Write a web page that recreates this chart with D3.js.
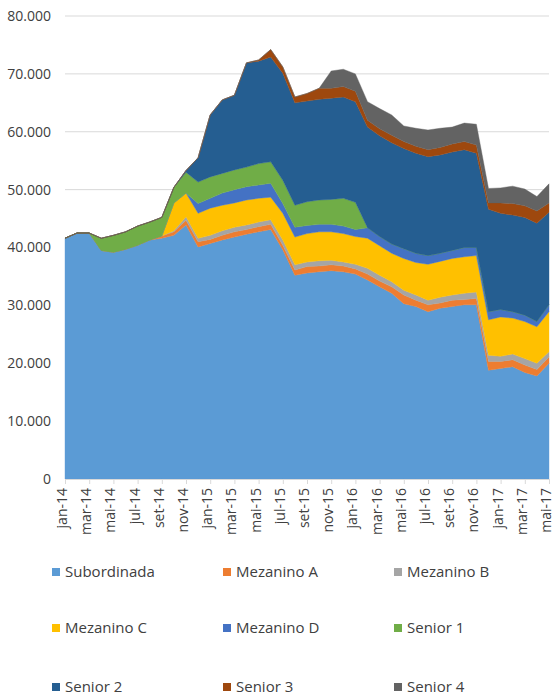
<!DOCTYPE html>
<html>
<head>
<meta charset="utf-8">
<script src="https://cdn.jsdelivr.net/npm/d3@7"></script>
<style>
  body { margin: 0; background: #fff; }
  svg text { font-family: "Open Sans", "Liberation Sans", sans-serif; }
</style>
</head>
<body>
<div id="chart"></div>
<script>
// months jan-14 .. mai-17 (values in thousands)
var months = ["jan-14","fev-14","mar-14","abr-14","mai-14","jun-14","jul-14","ago-14","set-14","out-14","nov-14","dez-14",
              "jan-15","fev-15","mar-15","abr-15","mai-15","jun-15","jul-15","ago-15","set-15","out-15","nov-15","dez-15",
              "jan-16","fev-16","mar-16","abr-16","mai-16","jun-16","jul-16","ago-16","set-16","out-16","nov-16","dez-16",
              "jan-17","fev-17","mar-17","abr-17","mai-17"];

var subordinada = [41.6,42.5,42.5,39.5,39.2,39.7,40.4,41.3,41.6,42.1,43.9,40.1,
                   40.7,41.3,41.8,42.3,42.7,43.1,39.6,35.2,35.6,35.8,36.0,35.8,
                   35.4,34.4,33.2,32.1,30.3,29.8,28.9,29.5,29.8,30.1,30.1,18.8,
                   19.1,19.4,18.4,17.8,20.0];
var mezaninoA = [0,0,0,0,0,0,0,0,0.4,0.6,0.8,0.9,
                 0.7,0.8,0.9,0.8,0.9,0.9,0.8,0.9,1.1,1.0,1.0,1.0,
                 0.9,1.0,1.0,1.1,1.5,1.1,1.2,0.9,1.1,0.9,1.1,1.5,
                 1.2,1.2,1.3,1.1,1.1];
var mezaninoB = [0,0,0,0,0,0,0,0,0,0.2,0.6,0.6,
                 0.7,0.8,0.8,0.8,0.8,0.8,0.9,0.9,0.8,0.9,0.8,0.7,
                 0.8,1.0,1.0,0.9,0.8,0.9,0.8,1.0,0.9,1.1,1.1,1.1,
                 0.9,1.0,1.1,1.1,0.9];
var mezaninoC = [0,0,0,0,0,0,0,0,0,4.8,4.1,4.3,
                 4.7,4.4,4.2,4.3,4.1,3.9,4.6,4.8,4.9,5.0,4.9,4.9,
                 4.8,5.2,5.1,4.9,5.5,5.6,6.2,6.2,6.3,6.3,6.3,6.1,
                 6.8,6.2,6.4,6.3,6.9];
var mezaninoD = [0,0,0,0,0,0,0,0,0,0,0,1.7,
                 1.7,2.1,2.3,2.3,2.3,2.4,1.7,1.7,1.4,1.3,1.3,1.3,
                 1.2,1.8,1.6,1.6,1.7,1.6,1.5,1.4,1.4,1.6,1.4,1.4,
                 1.3,1.1,1.1,0.9,1.2];
var senior1 = [0,0,0,2.1,2.9,3.0,3.3,3.1,3.2,2.7,3.6,3.7,
               3.7,3.4,3.4,3.4,3.7,3.7,4.0,3.8,4.1,4.2,4.3,4.8,
               4.7,0,0,0,0,0,0,0,0,0,0,0,
               0,0,0,0,0];
var senior2 = [0,0,0,0,0,0,0,0,0,0,0.3,4.2,
               10.7,12.7,12.9,18.0,17.7,18.1,18.5,17.7,17.4,17.4,17.5,17.5,
               17.4,17.4,17.4,17.5,17.3,17.3,17.1,17.0,17.0,16.9,16.3,17.7,
               16.6,16.7,16.9,17.0,16.0];
var senior3 = [0,0,0,0,0,0,0,0,0,0,0,0,
               0,0,0,0,0.2,1.3,1.1,1.0,1.3,1.9,1.7,1.8,
               1.8,1.2,1.2,1.3,1.2,1.2,1.2,1.3,1.4,1.4,1.4,1.1,
               1.8,2.0,2.0,2.1,1.6];
var senior4 = [0,0,0,0,0,0,0,0,0,0,0,0,
               0,0,0,0,0,0,0,0,0,0,3.0,3.0,
               3.0,3.2,3.5,3.5,2.7,3.1,3.4,3.3,2.9,3.2,3.6,2.5,
               2.6,3.0,2.9,2.5,3.3];

var seriesNames = ["Subordinada","Mezanino A","Mezanino B","Mezanino C","Mezanino D","Senior 1","Senior 2","Senior 3","Senior 4"];
var seriesValues = [subordinada, mezaninoA, mezaninoB, mezaninoC, mezaninoD, senior1, senior2, senior3, senior4];
var colors = ["#5B9BD5","#ED7D31","#A5A5A5","#FFC000","#4472C4","#70AD47","#255E91","#9E480E","#636363"];
var yTicks = [0,10,20,30,40,50,60,70,80];

var width = 555, height = 700;
var svg = d3.select("#chart").append("svg")
	.attr("width", width)
	.attr("height", height);

// build rows for the stack
var rows = months.map(function (m, i) {
	var r = { month: m };
	seriesNames.forEach(function (s, k) { r[s] = seriesValues[k][i]; });
	return r;
});

var x = d3.scalePoint().domain(months).range([65, 549]);
var y = d3.scaleLinear().domain([0, 80]).range([479, 16]);

var fmt = function (d) { return d === 0 ? "0" : d3.format(",")(d * 1000).replace(/,/g, "."); };

// gridlines
svg.append("g")
	.selectAll("line")
	.data(yTicks)
	.enter()
	.append("line")
	.attr("x1", 65).attr("x2", 549)
	.attr("y1", function (d) { return y(d); })
	.attr("y2", function (d) { return y(d); })
	.attr("stroke", "#D9D9D9")
	.attr("stroke-width", 1);

var stacked = d3.stack().keys(seriesNames)(rows);

var area = d3.area()
	.x(function (d) { return x(d.data.month); })
	.y0(function (d) { return y(d[0]); })
	.y1(function (d) { return y(d[1]); });

svg.append("g")
	.selectAll("path")
	.data(stacked)
	.enter()
	.append("path")
	.attr("d", area)
	.attr("fill", function (d, i) { return colors[i]; })
	.attr("stroke", function (d, i) { return colors[i]; })
	.attr("stroke-width", 0.4);

// y axis
var yAxis = svg.append("g")
	.attr("transform", "translate(54,0)")
	.call(d3.axisLeft(y).tickValues(yTicks).tickSize(0).tickFormat(fmt));
yAxis.select(".domain").remove();
yAxis.selectAll("text")
	.attr("font-size", "14px")
	.attr("fill", "#404040")
	.attr("font-family", "Open Sans, Liberation Sans, sans-serif");

// x axis
var labelMonths = months.filter(function (m, i) { return i % 2 === 0; });
var xAxis = svg.append("g")
	.attr("transform", "translate(0,479)")
	.call(d3.axisBottom(x).tickValues(labelMonths).tickSize(5).tickSizeOuter(0));
xAxis.select(".domain").attr("stroke", "#D9D9D9");
xAxis.selectAll(".tick line").attr("stroke", "#D9D9D9");
xAxis.selectAll("text")
	.attr("transform", "rotate(-90)")
	.attr("text-anchor", "end")
	.attr("x", -9)
	.attr("y", 0)
	.attr("dy", "0.1em")
	.attr("font-size", "14px")
	.attr("fill", "#404040")
	.attr("font-family", "Open Sans, Liberation Sans, sans-serif");

// legend 3 x 3
var colX = [52, 223, 394];
var rowY = [572, 628, 687];
var legend = svg.append("g")
	.selectAll("g")
	.data(seriesNames)
	.enter()
	.append("g")
	.attr("transform", function (d, i) {
		return "translate(" + colX[i % 3] + "," + rowY[Math.floor(i / 3)] + ")";
	});
legend.append("rect")
	.attr("x", 0).attr("y", -4)
	.attr("width", 8).attr("height", 8)
	.attr("fill", function (d, i) { return colors[i]; });
legend.append("text")
	.attr("x", 13)
	.attr("y", 0)
	.attr("dy", "0.35em")
	.attr("font-size", "15px")
	.attr("fill", "#404040")
	.text(function (d) { return d; });
</script>
</body>
</html>
